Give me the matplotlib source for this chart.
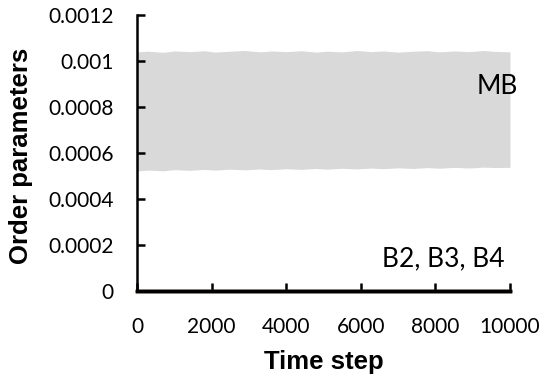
import matplotlib
matplotlib.use("Agg")
import matplotlib.pyplot as plt

# MB order parameter: dense oscillation, drawn as its upper / lower envelope
mb_steps = [0, 300, 700, 1000, 1400, 1800, 2100, 2500, 2900, 3300, 3600, 4000,
            4400, 4800, 5100, 5500, 5900, 6300, 6600, 7000, 7400, 7800, 8100,
            8500, 8900, 9300, 9600, 10000]
mb_upper = [0.001040, 0.001043, 0.001038, 0.001044, 0.001041, 0.001045, 0.001039,
            0.001043, 0.001046, 0.001040, 0.001044, 0.001041, 0.001045, 0.001039,
            0.001043, 0.001040, 0.001046, 0.001041, 0.001044, 0.001039, 0.001043,
            0.001045, 0.001040, 0.001044, 0.001041, 0.001046, 0.001042, 0.001040]
mb_lower = [0.000522, 0.000526, 0.000523, 0.000528, 0.000525, 0.000529, 0.000526,
            0.000530, 0.000527, 0.000531, 0.000528, 0.000532, 0.000529, 0.000533,
            0.000530, 0.000534, 0.000531, 0.000535, 0.000532, 0.000536, 0.000533,
            0.000537, 0.000534, 0.000538, 0.000535, 0.000539, 0.000537, 0.000538]

# B2, B3, B4 stay at zero
b_steps = [0, 10000]
b2 = [0.0, 0.0]
b3 = [0.0, 0.0]
b4 = [0.0, 0.0]

xticks = [0, 2000, 4000, 6000, 8000, 10000]
yticks = [0, 0.0002, 0.0004, 0.0006, 0.0008, 0.001, 0.0012]
yticklabels = ['0', '0.0002', '0.0004', '0.0006', '0.0008', '0.001', '0.0012']

fig = plt.figure(figsize=(5.48, 3.81), dpi=100)
ax = fig.add_axes([0.25, 0.236, 0.6807, 0.7244])

ax.fill_between(mb_steps, mb_lower, mb_upper, color='#d9d9d9', lw=0)
ax.plot(b_steps, b2, color='#5a3a22', lw=2.5, clip_on=False)
ax.plot(b_steps, b3, color='#3a2a1a', lw=2.5, clip_on=False)
ax.plot(b_steps, b4, color='black', lw=2.5, clip_on=False)

ax.set_xlim(0, 10000)
ax.set_ylim(0, 0.0012)
ax.set_xticks(xticks)
ax.set_xticklabels([str(t) for t in xticks])
ax.set_yticks(yticks)
ax.set_yticklabels(yticklabels)

for s in ['top', 'right']:
    ax.spines[s].set_visible(False)
ax.spines['left'].set_linewidth(1.8)
ax.spines['bottom'].set_linewidth(1.8)

ax.tick_params(axis='both', direction='in', length=6, width=1.8, labelsize=15)
ax.tick_params(axis='x', pad=19)
ax.tick_params(axis='y', pad=17)
for lab in ax.get_xticklabels() + ax.get_yticklabels():
    lab.set_family('Lato')

ax.text(9650, 0.000891, 'MB', fontsize=19, family='Lato', ha='center', va='center')
ax.text(8200, 0.000141, 'B2, B3, B4', fontsize=19, family='Lato', ha='center', va='center')

ax.set_xlabel('Time step', fontsize=18.5, fontweight='bold', family='Liberation Sans')
ax.set_ylabel('Order parameters', fontsize=18.5, fontweight='bold', family='Liberation Sans')
ax.xaxis.set_label_coords(0.5, -0.215)
ax.yaxis.set_label_coords(-0.279, 0.49)

fig.savefig('out.png', dpi=100)
